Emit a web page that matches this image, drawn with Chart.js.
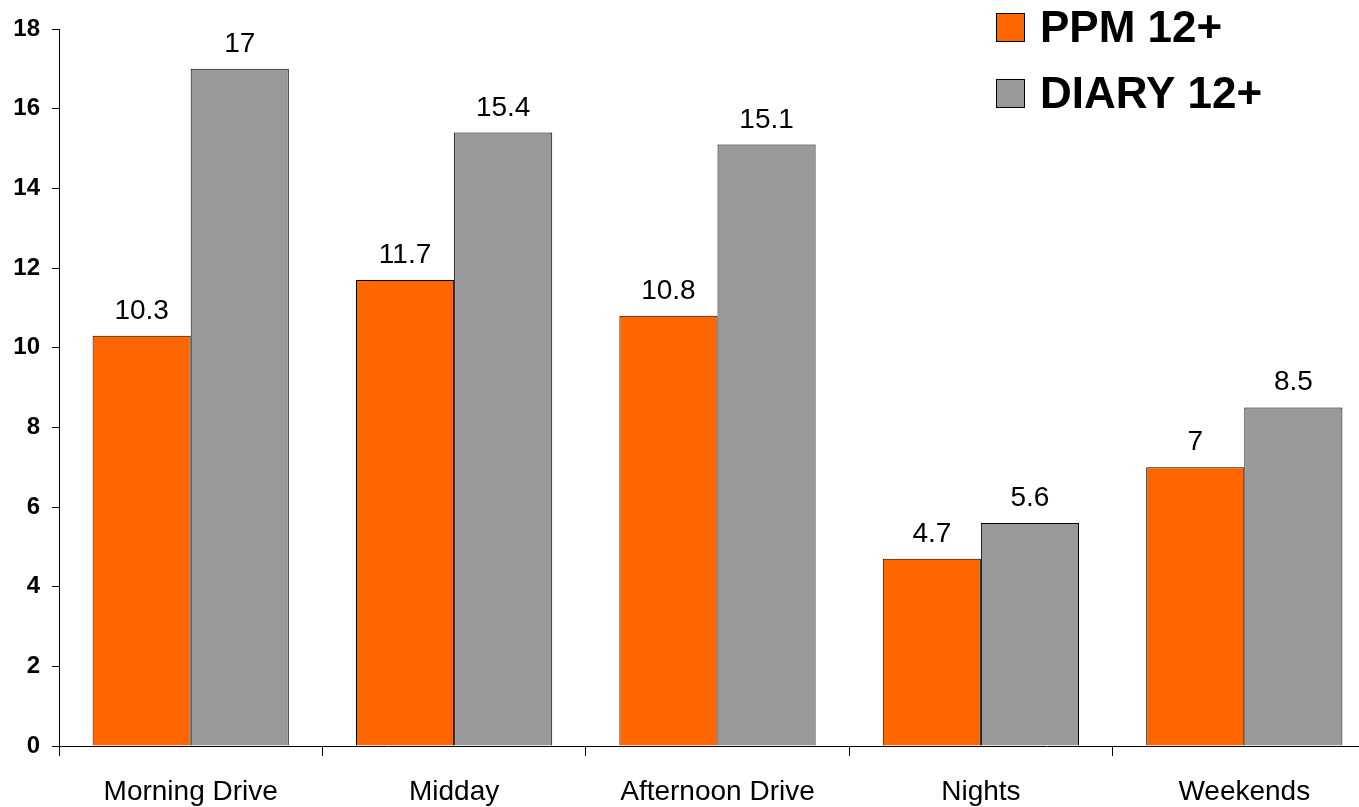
<!DOCTYPE html>
<html>
<head>
<meta charset="utf-8">
<script src="https://cdn.jsdelivr.net/npm/chart.js@4/dist/chart.umd.min.js"></script>
<style>
  html, body { margin: 0; padding: 0; background: #fff; overflow: hidden; }
  #wrap { width: 1376px; height: 807px; position: relative; }
</style>
</head>
<body>
<div id="wrap"><canvas id="c"></canvas></div>
<script>
const categories = ["Morning Drive", "Midday", "Afternoon Drive", "Nights", "Weekends"];
const ppmValues = [10.3, 11.7, 10.8, 4.7, 7];
const diaryValues = [17, 15.4, 15.1, 5.6, 8.5];
const seriesNames = ["PPM 12+", "DIARY 12+"];
const yTicks = [0, 2, 4, 6, 8, 10, 12, 14, 16, 18];

const FONT = "'Liberation Sans', Arial, Helvetica, sans-serif";

const valueLabels = {
  id: 'valueLabels',
  afterDatasetsDraw(chart) {
    const ctx = chart.ctx;
    ctx.save();
    ctx.font = "28px " + FONT;
    ctx.fillStyle = "#000";
    ctx.textAlign = "center";
    ctx.textBaseline = "alphabetic";
    chart.data.datasets.forEach((ds, i) => {
      chart.getDatasetMeta(i).data.forEach((el, j) => {
        ctx.fillText(String(ds.data[j]), el.x, el.y - 17);
      });
    });
    ctx.restore();
  }
};

const customLegend = {
  id: 'customLegend',
  afterDraw(chart) {
    const ctx = chart.ctx;
    ctx.save();
    ctx.font = "bold 44px " + FONT;
    ctx.textBaseline = "middle";
    ctx.textAlign = "left";
    chart.data.datasets.forEach((ds, i) => {
      const y = 13 + i * 66;
      ctx.fillStyle = ds.backgroundColor;
      ctx.fillRect(996, y, 28, 28);
      ctx.strokeStyle = "#000";
      ctx.lineWidth = 1;
      ctx.strokeRect(996.5, y + 0.5, 28, 28);
      ctx.fillStyle = "#000";
      ctx.fillText(ds.label, 1040, y + 17);
    });
    ctx.restore();
  }
};

new Chart(document.getElementById('c'), {
  type: 'bar',
  data: {
    labels: categories,
    datasets: [
      { label: seriesNames[0], data: ppmValues, backgroundColor: "#FF6600", borderColor: "#000", borderWidth: 1 },
      { label: seriesNames[1], data: diaryValues, backgroundColor: "#999999", borderColor: "#000", borderWidth: 1 }
    ]
  },
  options: {
    responsive: true,
    maintainAspectRatio: false,
    animation: false,
    devicePixelRatio: 1,
    layout: { padding: { top: 29, left: 0, right: 0, bottom: 0 } },
    plugins: { legend: { display: false }, tooltip: { enabled: false } },
    datasets: { bar: { categoryPercentage: 0.745, barPercentage: 1.0 } },
    scales: {
      x: {
        offset: true,
        afterFit(scale) { scale.height = 61; },
        grid: { drawOnChartArea: false, drawTicks: true, tickLength: 10, color: "#000", offset: true },
        border: { display: true, color: "#000", width: 1 },
        ticks: { color: "#000", font: { family: FONT, size: 28 }, padding: 19, maxRotation: 0, autoSkip: false }
      },
      y: {
        min: 0, max: 18,
        afterBuildTicks(scale) { scale.ticks = yTicks.map(v => ({ value: v })); },
        afterFit(scale) { scale.width = 59; },
        grid: { drawOnChartArea: false, drawTicks: true, tickLength: 7, color: "#000" },
        border: { display: true, color: "#000", width: 1 },
        ticks: { color: "#000", font: { family: FONT, size: 24, weight: 'bold' }, padding: 12 }
      }
    }
  },
  plugins: [valueLabels, customLegend]
});
</script>
</body>
</html>
